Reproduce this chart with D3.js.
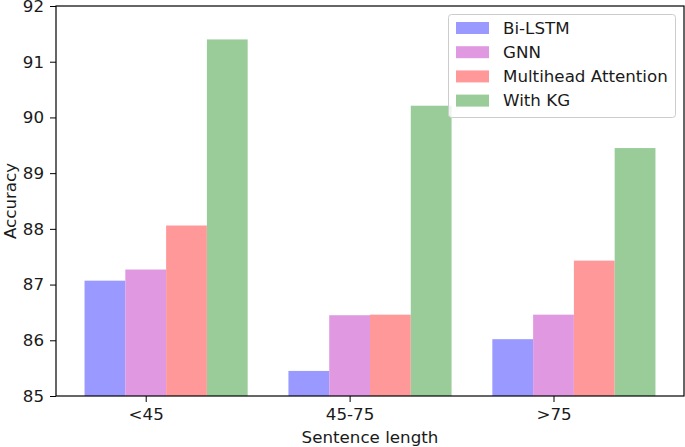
<!DOCTYPE html>
<html><head><meta charset="utf-8">
<script src="https://cdn.jsdelivr.net/npm/d3@7"></script>
<style>body{margin:0;background:#fff}svg{display:block;font-family:"DejaVu Sans",sans-serif}</style>
</head><body><svg id="c" width="685" height="447"></svg>
<script>
const categories = ["<45", "45-75", ">75"];
const seriesNames = ["Bi-LSTM", "GNN", "Multihead Attention", "With KG"];
const biLSTM = [87.07, 85.45, 86.02];
const gnn = [87.27, 86.45, 86.46];
const multihead = [88.06, 86.46, 87.43];
const withKG = [91.40, 90.21, 89.45];
const yTicks = [85, 86, 87, 88, 89, 90, 91, 92];
const colors = ["#9999ff", "#e099e0", "#ff9999", "#99cc99"];
const series = [biLSTM, gnn, multihead, withKG];

const svg = d3.select("#c");
const L = 56, R = 684, T = 6, B = 396;
const barW = 0.2;
const x = d3.scaleLinear().domain([-0.44, 2.64]).range([L, R]);
const y = d3.scaleLinear().domain([85, 92]).range([B, T]);

series.forEach((vals, k) => {
  svg.append("g").selectAll("rect").data(vals).join("rect")
    .attr("x", (d, i) => x(i + (k - 1) * barW - barW / 2))
    .attr("width", (d, i) => x(i + (k - 1) * barW + barW / 2) - x(i + (k - 1) * barW - barW / 2))
    .attr("y", d => y(d))
    .attr("height", d => y(85) - y(d))
    .attr("fill", colors[k]);
});

const fs = 16.7;
const yAxis = svg.append("g").attr("transform", `translate(${L},0)`)
  .call(d3.axisLeft(y).tickValues(yTicks).tickSize(6).tickPadding(6).tickFormat(d3.format("d")));
const xAxis = svg.append("g").attr("transform", `translate(0,${B})`)
  .call(d3.axisBottom(x).tickValues([0, 1, 2]).tickSize(6).tickPadding(6).tickFormat(i => categories[i]));
[yAxis, xAxis].forEach(a => {
  a.select(".domain").remove();
  a.selectAll("line").attr("stroke", "#000").attr("stroke-width", 1);
  a.selectAll("text").attr("font-size", fs).attr("fill", "#1a1a1a").attr("font-family", "DejaVu Sans");
});
svg.append("rect").attr("x", L).attr("y", T).attr("width", R - L).attr("height", B - T)
  .attr("fill", "none").attr("stroke", "#000").attr("stroke-width", 1.2);

svg.append("text").attr("x", (L + R) / 2).attr("y", 443).attr("text-anchor", "middle")
  .attr("font-size", fs).attr("fill", "#1a1a1a").text("Sentence length");
svg.append("text").attr("transform", `translate(15.5,${(T + B) / 2}) rotate(-90)`)
  .attr("text-anchor", "middle").attr("font-size", fs).attr("fill", "#1a1a1a").text("Accuracy");

const lg = svg.append("g");
lg.append("rect").attr("x", 448.5).attr("y", 14.5).attr("width", 227).attr("height", 103)
  .attr("rx", 3).attr("fill", "#fff").attr("fill-opacity", 0.8).attr("stroke", "#cccccc");
seriesNames.forEach((n, k) => {
  const cy = 28 + k * 24.2;
  lg.append("rect").attr("x", 456).attr("y", cy - 6).attr("width", 33).attr("height", 12).attr("fill", colors[k]);
  lg.append("text").attr("x", 503).attr("y", cy).attr("dy", "0.35em").attr("font-size", fs)
    .attr("fill", "#1a1a1a").text(n);
});
</script></body></html>
